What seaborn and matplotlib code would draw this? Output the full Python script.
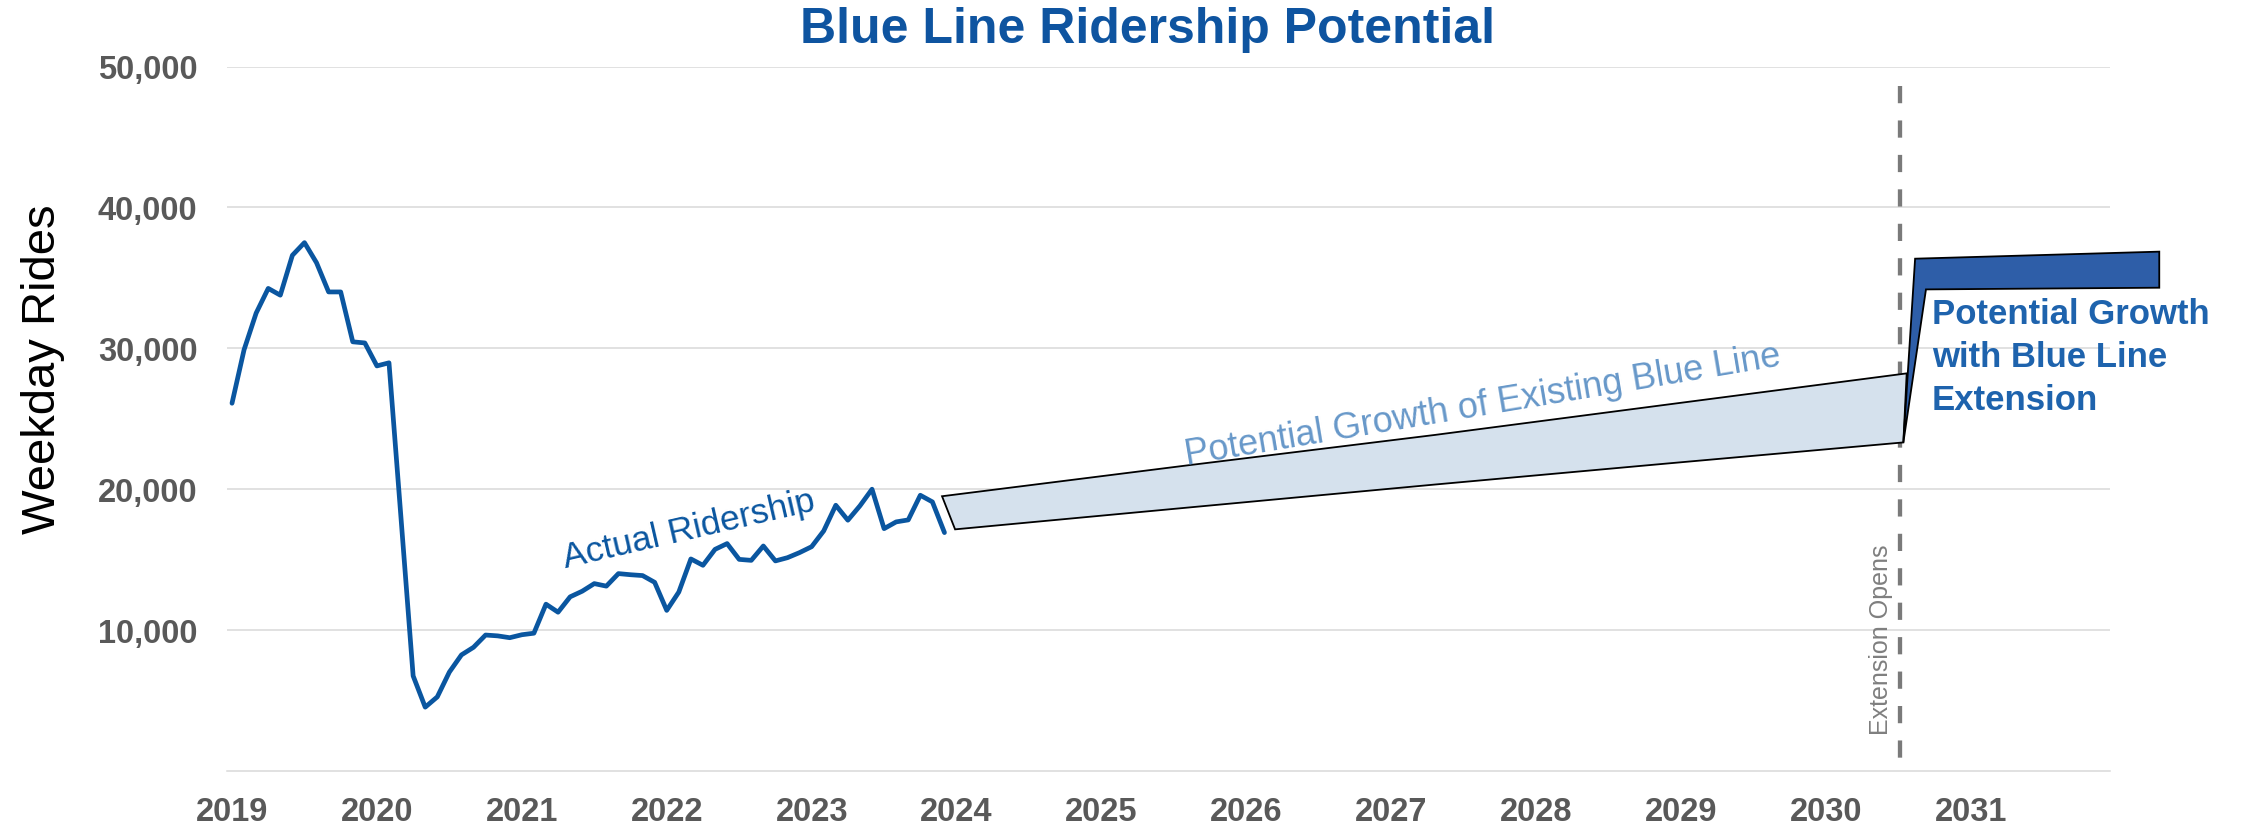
import numpy as np
import pandas as pd
import matplotlib
matplotlib.use("Agg")
import matplotlib.pyplot as plt
import seaborn as sns
from matplotlib import font_manager

# ---------------- data ----------------
months = [2019 + i / 12 for i in range(60)]  # Jan 2019 .. Dec 2023
ridership = [26100, 29900, 32500, 34250, 33770, 36600, 37500, 36070, 34000, 34000, 30460, 30380,
             28750, 28970, 17900, 6750, 4530, 5260, 7020, 8240, 8780, 9650, 9590, 9460,
             9670, 9780, 11840, 11270, 12360, 12760, 13300, 13120, 14010, 13930, 13870, 13390,
             11400, 12700, 15050, 14600, 15730, 16140, 15020, 14950, 15970, 14910, 15140, 15500,
             15920, 17040, 18860, 17800, 18820, 20000, 17200, 17680, 17820, 19570, 19100, 16920]

band_upper_x = [2023.90, 2025.6, 2027.3, 2028.9, 2030.557]
band_upper_y = [19500, 21700, 23850, 26000, 28220]
band_lower_x = [2023.99, 2025.6, 2027.3, 2028.9, 2030.534]
band_lower_y = [17150, 18700, 20330, 21820, 23320]

ext_x = [2030.534, 2030.615, 2032.30, 2032.30, 2030.69]
ext_y = [23320, 36360, 36860, 34300, 34180]

opening_year = 2030.51
year_ticks = list(range(2019, 2032))
y_ticks = [10000, 20000, 30000, 40000, 50000]
y_tick_labels = ["10,000", "20,000", "30,000", "40,000", "50,000"]

# ---------------- style ----------------
sns.set_theme(style="white")
plt.rcParams['font.family'] = ['Liberation Sans', 'DejaVu Sans']

names = {f.name for f in font_manager.fontManager.ttflist}
narrow = 'Liberation Sans Narrow' if 'Liberation Sans Narrow' in names else 'Liberation Sans'

W, H = 2247, 828
fig = plt.figure(figsize=(W / 100, H / 100), dpi=100)
ax = fig.add_axes([226.5 / W, 1 - 772 / H, (2110 - 226.5) / W, (772 - 67.5) / H])

title_blue = '#0E54A0'
line_blue = '#0A56A0'
ext_blue = '#2E5EA8'
gray_txt = '#595959'

df = pd.DataFrame({'year': months, 'rides': ridership})
sns.lineplot(data=df, x='year', y='rides', ax=ax, color=line_blue, linewidth=3.4, zorder=4)

# potential growth band (existing)
poly_x = band_upper_x + band_lower_x[::-1]
poly_y = band_upper_y + band_lower_y[::-1]
ax.fill(poly_x, poly_y, facecolor='#D5E1ED', edgecolor='black', linewidth=1.3, zorder=3)

# extension growth
ax.fill(ext_x, ext_y, facecolor=ext_blue, edgecolor='black', linewidth=1.3, zorder=5, clip_on=False)

# opening line
ax.plot([opening_year, opening_year], [48650, 0], color='#7A7A7A', linewidth=3.1,
        dashes=(4, 4), zorder=2, clip_on=False)

ax.set_xlim(2018.962, 2031.96)
ax.set_ylim(0, 50000)
ax.set_xticks(year_ticks)
ax.set_xticklabels([str(y) for y in year_ticks])
ax.set_yticks(y_ticks)
ax.set_yticklabels(y_tick_labels)
ax.tick_params(axis='both', length=0, labelsize=23.5, labelcolor=gray_txt)
ax.tick_params(axis='y', pad=21)
ax.tick_params(axis='x', pad=18)
for lab in ax.get_xticklabels() + ax.get_yticklabels():
    lab.set_fontweight('bold')
ax.grid(axis='y', color='#D9D9D9', linewidth=1.1)
ax.grid(axis='x', visible=False)
for s in ['top', 'right', 'left']:
    ax.spines[s].set_visible(False)
ax.spines['bottom'].set_color('#D9D9D9')
ax.spines['bottom'].set_linewidth(1.1)
ax.set_xlabel('')
ax.set_ylabel('')

# texts
fig.text(1148 / W, 1 - 30 / H, 'Blue Line Ridership Potential', ha='center', va='center',
         fontsize=36, fontweight='bold', color=title_blue)
fig.text(43 / W, 1 - 369 / H, 'Weekday Rides', rotation=90, ha='center', va='center',
         fontsize=34, color='black')

ax.text(2022.15, 17200, 'Actual Ridership', rotation=13, ha='center', va='center',
        fontsize=25.5, color=line_blue, rotation_mode='anchor')
band_fs = 29 if narrow != 'Liberation Sans' else 26
ax.text(2027.63, 26000, 'Potential Growth of Existing Blue Line', rotation=9.5, ha='center',
        va='center', fontsize=band_fs, color='#6798C9', rotation_mode='anchor',
        family=[narrow, 'DejaVu Sans'])
for txt, yb in zip(['Potential Growth', 'with Blue Line', 'Extension'], [31770, 28740, 25670]):
    ax.text(2030.73, yb, txt, ha='left', va='baseline', fontsize=25, fontweight='bold',
            color='#1E63AD', clip_on=False)
ax.text(2030.38, 9360, 'Extension Opens', rotation=90, ha='center', va='center',
        fontsize=18, color='#7F7F7F')

fig.savefig('out.png', dpi=100)
